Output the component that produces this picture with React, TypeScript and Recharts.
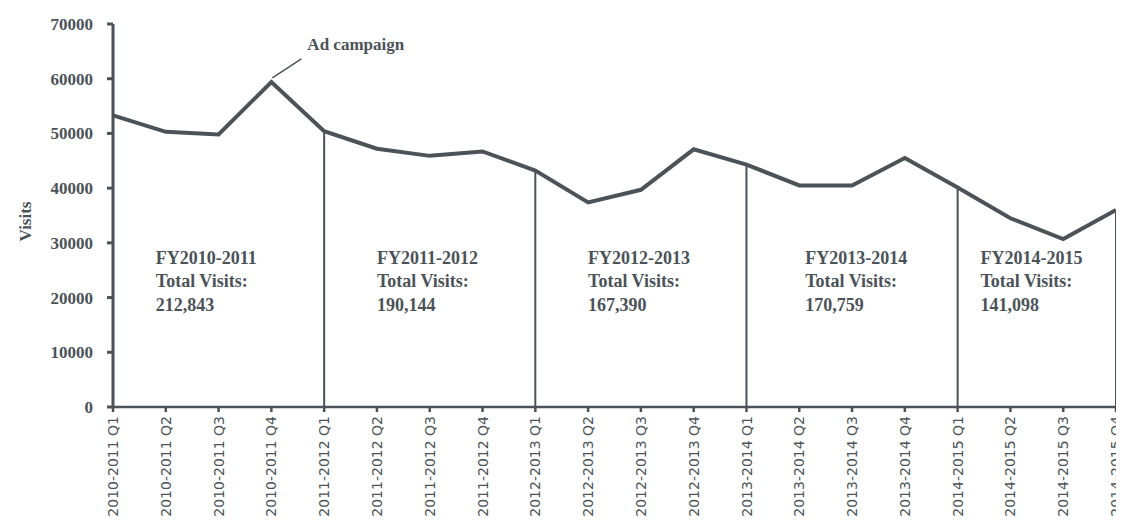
import React from 'react';
import { LineChart, Line, XAxis, YAxis, ReferenceLine, ReferenceDot } from 'recharts';

const quarters = [
    '2010-2011 Q1', '2010-2011 Q2', '2010-2011 Q3', '2010-2011 Q4',
    '2011-2012 Q1', '2011-2012 Q2', '2011-2012 Q3', '2011-2012 Q4',
    '2012-2013 Q1', '2012-2013 Q2', '2012-2013 Q3', '2012-2013 Q4',
    '2013-2014 Q1', '2013-2014 Q2', '2013-2014 Q3', '2013-2014 Q4',
    '2014-2015 Q1', '2014-2015 Q2', '2014-2015 Q3', '2014-2015 Q4',
];

const visits = [
    53300, 50300, 49800, 59400,
    50400, 47200, 45900, 46700,
    43200, 37400, 39700, 47100,
    44300, 40500, 40500, 45500,
    40100, 34500, 30700, 36000,
];

const yTicks = [0, 10000, 20000, 30000, 40000, 50000, 60000, 70000];

const fyNames = ['FY2010-2011', 'FY2011-2012', 'FY2012-2013', 'FY2013-2014', 'FY2014-2015'];
const fyTotals = ['212,843', '190,144', '167,390', '170,759', '141,098'];
const fyAnchors = ['2010-2011 Q2', '2011-2012 Q2', '2012-2013 Q2', '2013-2014 Q2', '2014-2015 Q2'];
const dividers = ['2011-2012 Q1', '2012-2013 Q1', '2013-2014 Q1', '2014-2015 Q1', '2014-2015 Q4'];
const adQuarter = '2010-2011 Q4';
const adLabel = 'Ad campaign';

// level (in visits) where the FY text blocks sit
const blockLevel = 27300;
const blockShift = [-10, 0, 0, 6, -30];

const ink = '#4b5359';
const serif = '"Liberation Serif", "Times New Roman", serif';

const data = quarters.map((q, i) => ({ quarter: q, visits: visits[i] }));
const valueAt = (q: string) => visits[quarters.indexOf(q)];

const XTick = ({ x, y, payload }: any) => (
    <text
        x={x}
        y={y + 2}
        dy="0.36em"
        transform={`rotate(-90 ${x} ${y + 2})`}
        textAnchor="end"
        fill={ink}
        fontFamily='"DejaVu Sans", sans-serif'
        fontSize={14}
    >
        {payload.value}
    </text>
);

const App: React.FC = () => {
    return (
        <div style={{ margin: '-8px', background: '#fff', width: 1124, height: 524 }}>
            <LineChart width={1124} height={524} data={data} margin={{ top: 24, right: 8, bottom: 0, left: 0 }}>
                <XAxis
                    dataKey="quarter"
                    height={117}
                    interval={0}
                    tick={<XTick />}
                    tickSize={5}
                    tickMargin={2}
                    stroke={ink}
                    strokeWidth={2.5}
                />
                <YAxis
                    width={113}
                    domain={[0, 70000]}
                    ticks={yTicks}
                    interval={0}
                    tickSize={6}
                    tickMargin={14}
                    stroke={ink}
                    strokeWidth={3}
                    tick={{ fill: ink, fontFamily: serif, fontWeight: 700, fontSize: 17 }}
                    label={{
                        content: ({ viewBox }: any) => {
                            const cx = 25;
                            const cy = viewBox.y + viewBox.height / 2 + 6;
                            return (
                                <text x={cx} y={cy} dy="0.35em" transform={`rotate(-90 ${cx} ${cy})`} textAnchor="middle"
                                    fill={ink} fontFamily={serif} fontWeight={700} fontSize={17}>
                                    Visits
                                </text>
                            );
                        },
                    }}
                />
                {dividers.map((q) => (
                    <ReferenceLine
                        key={q}
                        segment={[{ x: q, y: 0 }, { x: q, y: valueAt(q) }]}
                        stroke={ink}
                        strokeWidth={2}
                    />
                ))}
                <Line
                    type="linear"
                    dataKey="visits"
                    stroke={ink}
                    strokeWidth={4}
                    dot={false}
                    isAnimationActive={false}
                />
                <ReferenceDot
                    x={adQuarter}
                    y={valueAt(adQuarter)}
                    shape={(p: any) => (
                        <g>
                            <line x1={p.cx + 1} y1={p.cy - 4} x2={p.cx + 30} y2={p.cy - 23} stroke={ink} strokeWidth={1.5} />
                            <text x={p.cx + 36} y={p.cy - 32} fill={ink} fontFamily={serif} fontWeight={700} fontSize={17}>
                                {adLabel}
                            </text>
                        </g>
                    )}
                />
                {fyAnchors.map((q, i) => (
                    <ReferenceDot
                        key={q}
                        x={q}
                        y={blockLevel}
                        shape={(p: any) => (
                            <text x={p.cx + blockShift[i]} y={p.cy} fill={ink} fontFamily={serif} fontWeight={700} fontSize={18}>
                                <tspan x={p.cx + blockShift[i]} dy="0.35em">{fyNames[i]}</tspan>
                                <tspan x={p.cx + blockShift[i]} dy={23}>Total Visits:</tspan>
                                <tspan x={p.cx + blockShift[i]} dy={24}>{fyTotals[i]}</tspan>
                            </text>
                        )}
                    />
                ))}
            </LineChart>
        </div>
    );
};

export default App;
